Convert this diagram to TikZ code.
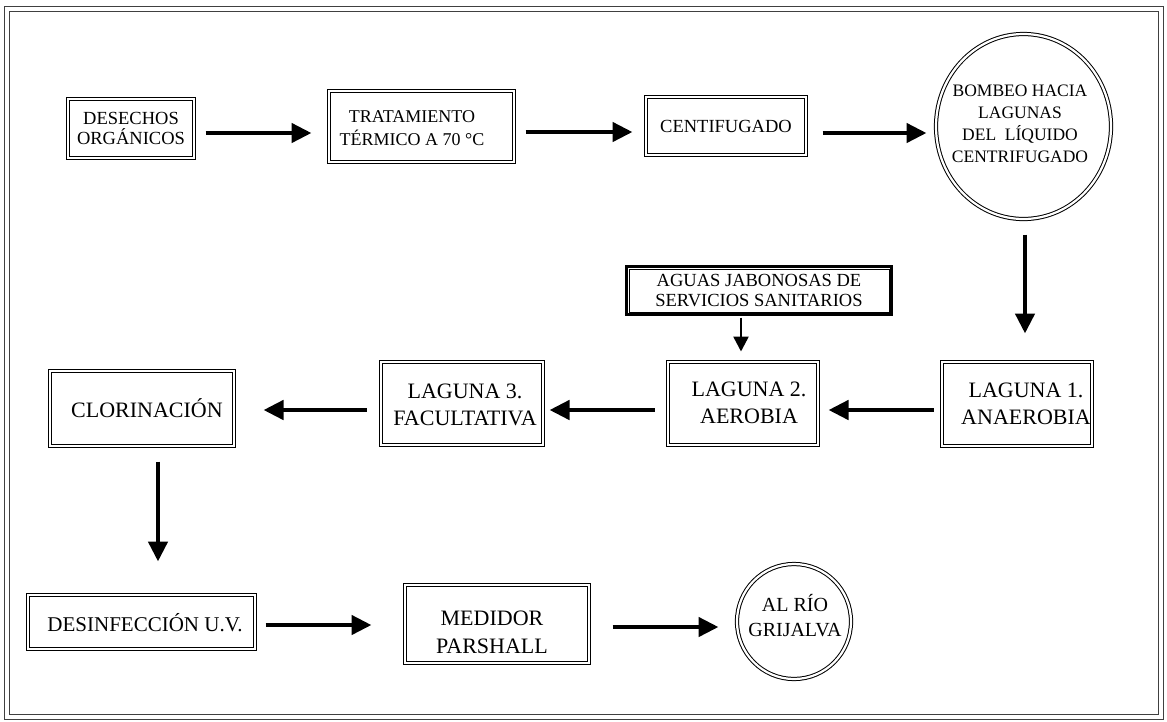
\documentclass[tikz,border=0pt]{standalone}
\usepackage{fontspec}
\setmainfont{Liberation Serif}
\usetikzlibrary{arrows.meta,shapes.geometric}
\begin{document}
\begin{tikzpicture}[x=1pt,y=-1pt,
  dbox/.style={draw, double, double distance=2.2pt, line width=1pt, rectangle, inner sep=0pt, align=center},
  dell/.style={draw, double, double distance=2.2pt, line width=1pt, ellipse, inner sep=0pt},
  txt/.style={inner sep=0pt, align=center},
  flow/.style={line width=4.5pt, -{Triangle[length=20pt,width=19pt]}},
  thinflow/.style={line width=2.5pt, -{Triangle[length=15pt,width=15pt]}},
  frame/.style={draw=black!75, line width=1pt},
  fa/.style={font=\fontsize{18.5}{20.5}\selectfont},
  fb/.style={font=\fontsize{18}{23}\selectfont},
  fc/.style={font=\fontsize{17.5}{22}\selectfont},
  fd/.style={font=\fontsize{22}{27}\selectfont},
  fe/.style={font=\fontsize{21}{25}\selectfont},
  ff/.style={font=\fontsize{20}{25}\selectfont},
  fg/.style={font=\fontsize{22}{28}\selectfont},
]
\useasboundingbox (0,0) rectangle (1167,721);
\draw[frame] (4,6) rectangle (1163,719);
\draw[frame] (9,11) rectangle (1158,714);

% top row
\node[dbox, fa, minimum width=126pt, minimum height=59pt] (des) at (131,128.5) {DESECHOS\\ORGÁNICOS};
\node[dbox, minimum width=185pt, minimum height=71pt] (trat) at (421.5,126.5) {};
\node[txt, fb] (tratt) at (412,128) {TRATAMIENTO\\TÉRMICO A 70 °C};
\node[dbox, fa, minimum width=160pt, minimum height=58pt] (cent) at (726,126) {CENTIFUGADO};
\node[dell, minimum width=175pt, minimum height=185pt] (bomb) at (1023.5,126.5) {};
\node[txt, fc] (bombt) at (1020,124) {BOMBEO HACIA\\LAGUNAS\\DEL~~LÍQUIDO\\CENTRIFUGADO};

% aguas
\node[draw, line width=3pt, rectangle, inner sep=0pt, align=center, fa, minimum width=265pt, minimum height=48pt] (ag) at (759,290.5) {AGUAS JABONOSAS DE\\SERVICIOS SANITARIOS};
\draw[line width=1pt] ([shift={(4pt,-4pt)}]ag.north west) rectangle ([shift={(-4pt,4pt)}]ag.south east);

% middle row
\node[dbox, minimum width=150pt, minimum height=84pt] (l1) at (1017,404) {};
\node[txt, fd] (l1t) at (1026,404) {LAGUNA 1.\\ANAEROBIA};
\node[dbox, minimum width=150pt, minimum height=83pt] (l2) at (743,403.5) {};
\node[txt, fd] (l2t) at (749,403) {LAGUNA 2.\\AEROBIA};
\node[dbox, minimum width=162pt, minimum height=83pt] (l3) at (462,403.5) {};
\node[txt, fd] (l3t) at (465,405) {LAGUNA 3.\\FACULTATIVA};
\node[dbox, minimum width=184pt, minimum height=75pt] (clor) at (142,408.5) {};
\node[txt, fd] (clort) at (147,408) {CLORINACIÓN};

% bottom row
\node[dbox, minimum width=227pt, minimum height=54pt] (dsf) at (141.5,622) {};
\node[txt, fe] (dsft) at (145,623) {DESINFECCIÓN U.V.};
\node[dbox, minimum width=184pt, minimum height=78pt] (med) at (497,624) {};
\node[txt, fg] (medt) at (492,632) {MEDIDOR\\PARSHALL};
\node[dell, minimum width=114pt, minimum height=115pt] (rio) at (794,621.5) {};
\node[txt, ff] (riot) at (795,616) {AL RÍO\\GRIJALVA};

% connectors
\draw[flow] ([xshift=11pt,yshift=-4.5pt]des.east) -- ([xshift=-17pt,yshift=-6.5pt]trat.west);
\draw[flow] ([xshift=11pt,yshift=-5.5pt]trat.east) -- ([xshift=-13pt,yshift=-6pt]cent.west);
\draw[flow] ([xshift=16pt,yshift=-7pt]cent.east) -- ([xshift=-9pt,yshift=-6.5pt]bomb.west);
\draw[flow] ([xshift=1.5pt,yshift=-15pt]bomb.south) -- ([xshift=8pt,yshift=28pt]l1.north);
\draw[flow] ([xshift=-8pt,yshift=-6pt]l1.west) -- ([xshift=10pt,yshift=-6.5pt]l2.east);
\draw[flow] ([xshift=-13pt,yshift=-6.5pt]l2.west) -- ([xshift=6pt,yshift=-6.5pt]l3.east);
\draw[flow] ([xshift=-14pt,yshift=-6.5pt]l3.west) -- ([xshift=29pt,yshift=-1.5pt]clor.east);
\draw[flow] ([xshift=16pt,yshift=-15pt]clor.south) -- ([xshift=16.5pt,yshift=33pt]dsf.north);
\draw[flow] ([xshift=10pt,yshift=-3pt]dsf.east) -- ([xshift=-33pt,yshift=-1pt]med.west);
\draw[flow] ([xshift=23pt,yshift=-3pt]med.east) -- ([xshift=-18pt,yshift=-5.5pt]rio.west);
\draw[thinflow] ([xshift=-18pt,yshift=-1.5pt]ag.south) -- ([xshift=-2pt,yshift=10pt]l2.north);
\end{tikzpicture}
\end{document}
